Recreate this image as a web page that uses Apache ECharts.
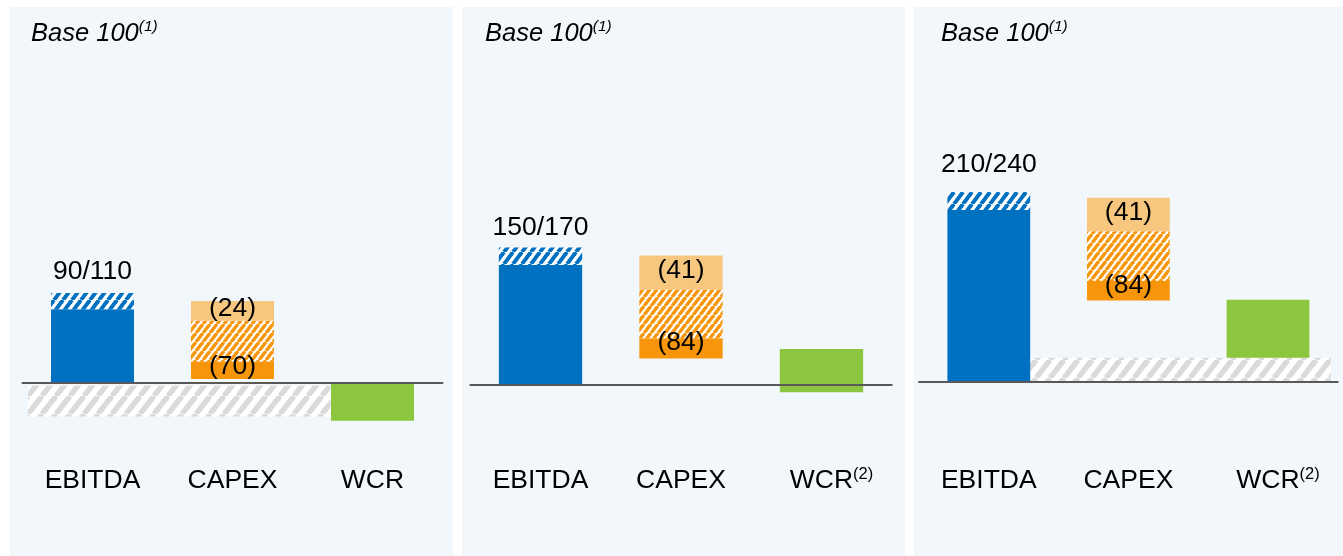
<!DOCTYPE html>
<html>
<head>
<meta charset="utf-8">
<title>EBITDA / CAPEX / WCR - base 100</title>
<script src="https://cdn.jsdelivr.net/npm/echarts@6/dist/echarts.min.js"></script>
<style>
  html, body { margin: 0; padding: 0; background: #fff; }
  #main { width: 1343px; height: 556px; }
</style>
</head>
<body>
<div id="main"></div>
<script>
// ---- data (base 100), one entry per panel ----
var categories = ['EBITDA', 'CAPEX', 'WCR'];
var wcrNotes = ['', '(2)', '(2)'];

var ebitdaBase = [90, 150, 210];
var ebitdaUpside = [110, 172, 232];
var ebitdaLabels = ['90/110', '150/170', '210/240'];
var ebitdaLabelAt = [110, 170, 240];

var capexBottom = [5, 33, 99];
var capexSolid = [21, 25, 24];
var capexHatch = [50, 61, 61];
var capexLight = [24, 43, 41];
var capexLowLabels = ['(70)', '(84)', '(84)'];
var capexHighLabels = ['(24)', '(41)', '(41)'];

var wcrBottom = [-46, -9, 29];
var wcrTop = [-1, 45, 100];

var gapBottom = [-41, null, 0];
var gapTop = [-3.5, null, 29];
var gapFrom = [-0.46, null, 0.29];   // in category bands, from EBITDA centre
var gapTo = [1.7, null, 2.45];

// ---- layout ----
var FONT = '"Liberation Sans", Arial, sans-serif';
var FS = 26.5;
var Y_MIN = -95, Y_MAX = 260;
var BAR = 0.593;
var LABEL_TOP = 466;
var panels = [
  { bgX: 10,  bgW: 443, left: 22.5,   width: 420,   zero: 383,   scale: 0.819, titleX: 31 },
  { bgX: 462, bgW: 443, left: 470.25, width: 421.5, zero: 385,   scale: 0.8,   titleX: 485 },
  { bgX: 914, bgW: 429, left: 919,    width: 418.8, zero: 381.5, scale: 0.817, titleX: 941 }
];

function stripes(bg, fg, w, h, lw) {
  var c = document.createElement('canvas');
  c.width = w; c.height = h;
  var g = c.getContext('2d');
  g.fillStyle = bg; g.fillRect(0, 0, w, h);
  g.strokeStyle = fg; g.lineWidth = lw;
  [-w, 0, w].forEach(function (dx) {
    g.beginPath(); g.moveTo(dx, h); g.lineTo(dx + w, 0); g.stroke();
  });
  return { image: c, repeat: 'repeat' };
}

var blue = '#0070C0', orange = '#F7960A', lightOrange = '#F8C77F', green = '#8CC63F';
var blueHatch = stripes('#ffffff', blue, 9, 12, 4);
var orangeHatch = stripes('#ffffff', orange, 7, 9, 3.5);
var grayHatch = stripes('#ffffff', '#DADADA', 14, 18, 5.5);

function barRender(fill, text, where) {
  return function (params, api) {
    var w = api.size([1, 0])[0] * BAR;
    var top = api.coord([api.value(0), api.value(2)]);
    var bot = api.coord([api.value(0), api.value(1)]);
    var el = {
      type: 'rect',
      shape: { x: top[0] - w / 2, y: top[1], width: w, height: bot[1] - top[1] },
      style: { fill: fill }
    };
    if (text) {
      el.textContent = { style: { text: text, font: FS + 'px ' + FONT, fill: '#000' } };
      el.textConfig = where === 'edge'
        ? { position: 'insideTop', distance: 0, offset: [0, -9] }
        : { position: 'inside', offset: [0, -2] };
    }
    return el;
  };
}

function spanRender(fill) {
  return function (params, api) {
    var band = api.size([1, 0])[0];
    var top = api.coord([0, api.value(2)]);
    var bot = api.coord([0, api.value(1)]);
    var x0 = top[0] + api.value(3) * band, x1 = top[0] + api.value(4) * band;
    return {
      type: 'rect',
      shape: { x: x0, y: top[1], width: x1 - x0, height: bot[1] - top[1] },
      style: { fill: fill }
    };
  };
}

function labelRender(text) {
  return function (params, api) {
    var pt = api.coord([api.value(0), api.value(1)]);
    return {
      type: 'text', x: pt[0], y: pt[1] - 21,
      style: { text: text, font: FS + 'px ' + FONT, fill: '#000', align: 'center', verticalAlign: 'middle' }
    };
  };
}

var grids = [], xAxes = [], yAxes = [], series = [], titles = [], graphics = [];

panels.forEach(function (p, i) {
  graphics.push({
    type: 'rect', z: -10, silent: true,
    shape: { x: p.bgX, y: 7, width: p.bgW, height: 556 - 7 },
    style: { fill: '#F2F7FC' }
  });
  titles.push({
    text: '{a|Base 100}{s|(1)}',
    left: p.titleX, top: 19, padding: 0,
    textStyle: {
      fontWeight: 'normal',
      rich: {
        a: { fontFamily: FONT, fontSize: 25.5, fontStyle: 'italic', fontWeight: 'normal', color: '#000', lineHeight: 30 },
        s: { fontFamily: FONT, fontSize: 15.5, fontStyle: 'italic', fontWeight: 'normal', color: '#000', lineHeight: 26, verticalAlign: 'top' }
      }
    }
  });
  var gTop = p.zero - Y_MAX * p.scale;
  var gHeight = (Y_MAX - Y_MIN) * p.scale;
  grids.push({ left: p.left, width: p.width, top: gTop, height: gHeight });
  yAxes.push({ type: 'value', gridIndex: i, min: Y_MIN, max: Y_MAX, show: false });
  // baseline at zero
  xAxes.push({
    type: 'category', gridIndex: i, data: categories, position: 'bottom', z: 10,
    axisLine: { onZero: true, lineStyle: { color: '#595959', width: 2 } },
    axisTick: { show: false }, axisLabel: { show: false }, splitLine: { show: false }
  });
  // category names
  xAxes.push({
    type: 'category', gridIndex: i, data: categories, position: 'bottom',
    axisLine: { show: false, onZero: false }, axisTick: { show: false },
    axisLabel: {
      margin: LABEL_TOP - (gTop + gHeight), interval: 0,
      formatter: function (v) {
        if (v === 'WCR' && wcrNotes[i]) return '{w|WCR}{s|' + wcrNotes[i] + '}';
        return '{a|' + v + '}';
      },
      rich: {
        a: { fontFamily: FONT, fontSize: FS, color: '#000', lineHeight: 30 },
        w: { fontFamily: FONT, fontSize: FS, color: '#000', lineHeight: 30, padding: [0, 0, 0, 20] },
        s: { fontFamily: FONT, fontSize: 16.5, color: '#000', lineHeight: 26, verticalAlign: 'top' }
      }
    }
  });

  var xi = i * 2;
  var cTop1 = capexBottom[i] + capexSolid[i];
  var cTop2 = cTop1 + capexHatch[i];
  var cTop3 = cTop2 + capexLight[i];
  var base = { type: 'custom', xAxisIndex: xi, yAxisIndex: i, encode: { x: 0, y: [1, 2] }, silent: true };

  if (gapBottom[i] !== null) {
    series.push(Object.assign({}, base, {
      name: 'gap', renderItem: spanRender(grayHatch),
      data: [[0, gapBottom[i], gapTop[i], gapFrom[i], gapTo[i]]]
    }));
  }
  series.push(Object.assign({}, base, { name: 'EBITDA', renderItem: barRender(blue),
    data: [[0, 0, ebitdaBase[i]]] }));
  series.push(Object.assign({}, base, { name: 'EBITDA upside', renderItem: barRender(blueHatch),
    data: [[0, ebitdaBase[i], ebitdaUpside[i]]] }));
  series.push(Object.assign({}, base, { name: 'CAPEX hatched', renderItem: barRender(orangeHatch),
    data: [[1, cTop1, cTop2]] }));
  series.push(Object.assign({}, base, { name: 'CAPEX', renderItem: barRender(orange, capexLowLabels[i], 'edge'),
    data: [[1, capexBottom[i], cTop1]] }));
  series.push(Object.assign({}, base, { name: 'CAPEX light', renderItem: barRender(lightOrange, capexHighLabels[i]),
    data: [[1, cTop2, cTop3]] }));
  series.push(Object.assign({}, base, { name: 'WCR', renderItem: barRender(green),
    data: [[2, wcrBottom[i], wcrTop[i]]] }));
  series.push({
    type: 'custom', xAxisIndex: xi, yAxisIndex: i, silent: true, encode: { x: 0, y: 1 },
    name: 'EBITDA label', renderItem: labelRender(ebitdaLabels[i]),
    data: [[0, ebitdaLabelAt[i]]]
  });
});

var chart = echarts.init(document.getElementById('main'));
chart.setOption({
  animation: false,
  backgroundColor: '#ffffff',
  title: titles,
  grid: grids,
  xAxis: xAxes,
  yAxis: yAxes,
  graphic: graphics,
  series: series
});
</script>
</body>
</html>
